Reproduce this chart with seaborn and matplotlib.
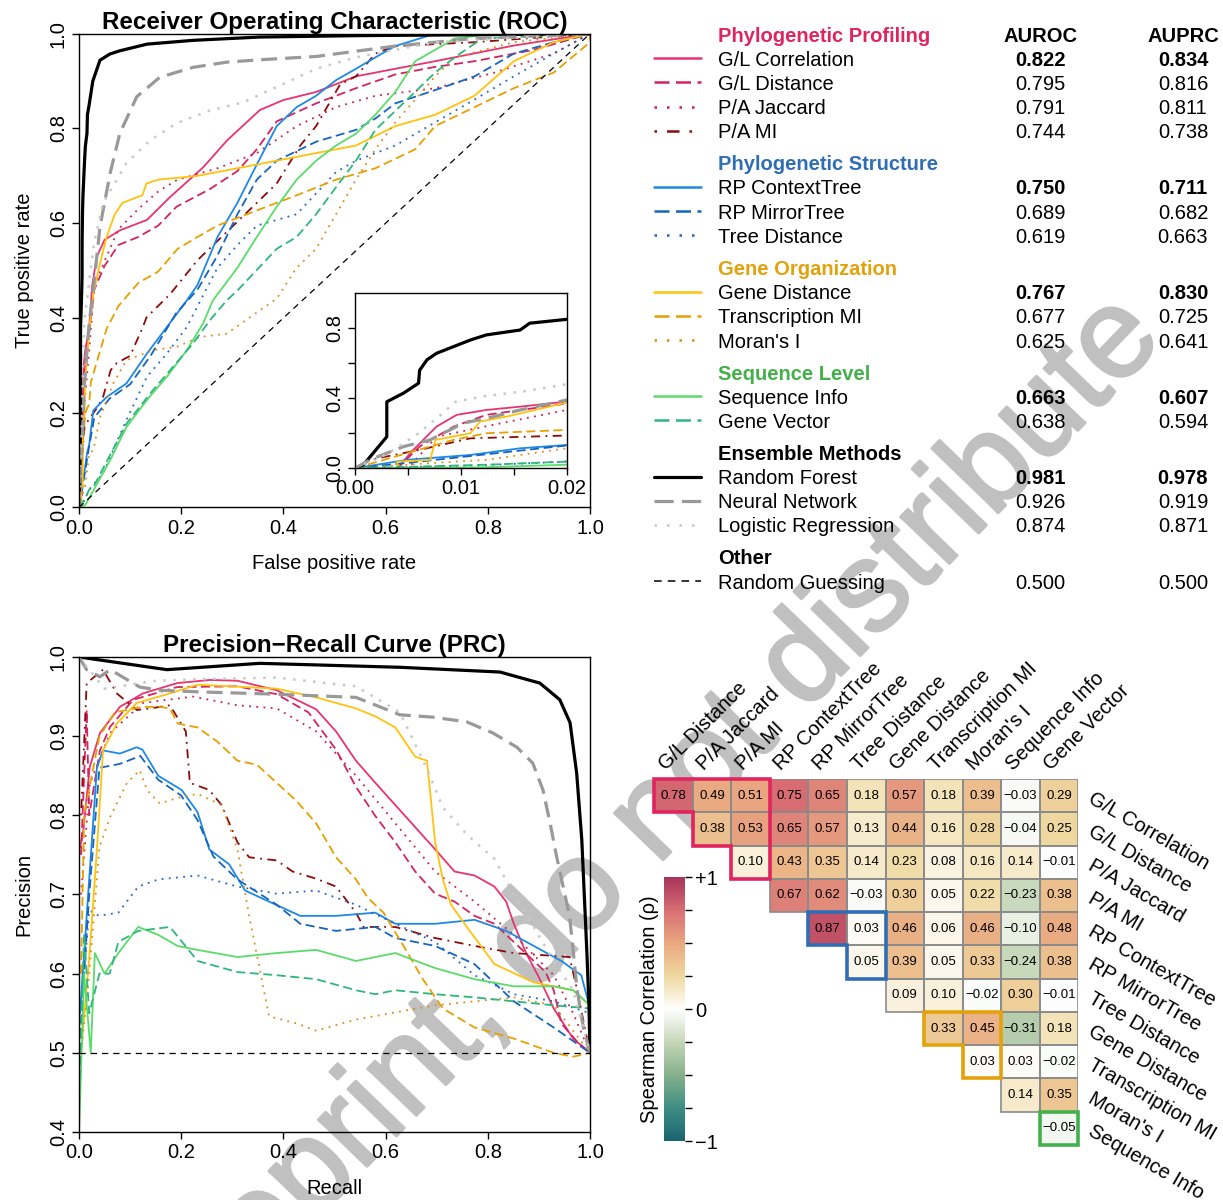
import numpy as np
import matplotlib
matplotlib.use("Agg")
import matplotlib.pyplot as plt
import matplotlib.patheffects as pe
import seaborn as sns
from matplotlib.colors import LinearSegmentedColormap
from matplotlib.patches import Polygon, Rectangle

# ---- methods, groups, scores ----
METHODS = ["G/L Correlation", "G/L Distance", "P/A Jaccard", "P/A MI",
           "RP ContextTree", "RP MirrorTree", "Tree Distance",
           "Gene Distance", "Transcription MI", "Moran's I",
           "Sequence Info", "Gene Vector",
           "Random Forest", "Neural Network", "Logistic Regression"]
GROUPS = ["Phylogenetic Profiling", "Phylogenetic Structure", "Gene Organization",
          "Sequence Level", "Ensemble Methods", "Other"]
GROUP_SIZES = [4, 3, 3, 2, 3, 1]
GROUP_COLORS = ["#E0245E", "#2F6EB5", "#E3A20C", "#44B04A", "#000000", "#000000"]
METHOD_COLORS = ["#E8336E", "#D42360", "#C8204F", "#8B0A0A",
                 "#1E88E5", "#1565C0", "#2166C4",
                 "#FFC20E", "#E6A000", "#D98E1A",
                 "#5BDB6A", "#2EB67D",
                 "#000000", "#999999", "#C8C8C8"]
METHOD_STYLES = ["solid", "dashed", "dotted", "dotdash",
                 "solid", "dashed", "dotted",
                 "solid", "dashed", "dotted",
                 "solid", "dashed",
                 "solid", "dashed", "dotted"]
METHOD_LW = [1.3] * 12 + [2.3, 2.3, 1.8]
AUROC = [0.822, 0.795, 0.791, 0.744, 0.750, 0.689, 0.619, 0.767, 0.677, 0.625,
         0.663, 0.638, 0.981, 0.926, 0.874]
AUPRC = [0.834, 0.816, 0.811, 0.738, 0.711, 0.682, 0.663, 0.830, 0.725, 0.641,
         0.607, 0.594, 0.978, 0.919, 0.871]
RANDOM_NAME = "Random Guessing"
RANDOM_AUROC = 0.500
RANDOM_AUPRC = 0.500

# ---- ROC curves (fpr, tpr) ----
ROC_GL_CORR = [(0, 0), (0.004, 0.0), (0.0055, 0.105), (0.0077, 0.238), (0.0096, 0.305), (0.0124, 0.333),
               (0.0156, 0.352), (0.02, 0.381), (0.026, 0.47), (0.035, 0.53), (0.05, 0.565), (0.08, 0.585),
               (0.133, 0.607), (0.178, 0.655), (0.243, 0.718), (0.29, 0.775), (0.354, 0.839), (0.4, 0.86),
               (0.464, 0.877), (0.542, 0.91), (0.619, 0.926), (0.697, 0.942), (0.851, 0.975), (1, 1)]
ROC_GL_DIST = [(0, 0), (0.004, 0.0), (0.0061, 0.124), (0.0093, 0.238), (0.0124, 0.305), (0.02, 0.37),
               (0.03, 0.46), (0.05, 0.51), (0.077, 0.554), (0.116, 0.571), (0.155, 0.595), (0.191, 0.635),
               (0.256, 0.672), (0.31, 0.71), (0.348, 0.756), (0.387, 0.815), (0.464, 0.853), (0.542, 0.885),
               (0.619, 0.914), (0.697, 0.93), (0.774, 0.942), (0.89, 0.966), (1, 1)]
ROC_PA_JACC = [(0, 0), (0.005, 0.0), (0.0077, 0.18), (0.0124, 0.24), (0.02, 0.333), (0.03, 0.47),
               (0.05, 0.52), (0.077, 0.587), (0.116, 0.63), (0.155, 0.667), (0.193, 0.692), (0.271, 0.716),
               (0.348, 0.748), (0.426, 0.805), (0.503, 0.845), (0.58, 0.869), (0.697, 0.885), (0.813, 0.918),
               (0.929, 0.958), (1, 1)]
ROC_PA_MI = [(0, 0), (0.0014, 0.048), (0.0061, 0.105), (0.0109, 0.171), (0.02, 0.187), (0.035, 0.21),
             (0.047, 0.233), (0.062, 0.29), (0.074, 0.305), (0.1, 0.32), (0.125, 0.381), (0.132, 0.401),
             (0.178, 0.45), (0.232, 0.522), (0.279, 0.571), (0.325, 0.619), (0.387, 0.684), (0.433, 0.764),
             (0.464, 0.805), (0.511, 0.893), (0.542, 0.91), (0.58, 0.958), (0.619, 0.974), (0.774, 0.982), (1, 1)]
ROC_RP_CT = [(0, 0), (0.0049, 0.048), (0.0109, 0.076), (0.0156, 0.114), (0.02, 0.133), (0.028, 0.205),
             (0.054, 0.233), (0.093, 0.262), (0.133, 0.325), (0.172, 0.381), (0.211, 0.437), (0.232, 0.47),
             (0.271, 0.571), (0.31, 0.643), (0.348, 0.724), (0.387, 0.805), (0.426, 0.845), (0.464, 0.869),
             (0.503, 0.902), (0.542, 0.926), (0.58, 0.95), (0.619, 0.974), (0.697, 1.0), (1, 1)]
ROC_RP_MT = [(0, 0), (0.0061, 0.038), (0.02, 0.13), (0.03, 0.19), (0.06, 0.23), (0.1, 0.26), (0.14, 0.32),
             (0.19, 0.41), (0.232, 0.46), (0.27, 0.53), (0.31, 0.619), (0.348, 0.692), (0.387, 0.732),
             (0.464, 0.772), (0.542, 0.797), (0.58, 0.821), (0.619, 0.853), (0.697, 0.881), (0.774, 0.91),
             (0.851, 0.958), (0.929, 0.982), (1, 1)]
ROC_TREE_DIST = [(0, 0), (0.012, 0.017), (0.02, 0.038), (0.047, 0.072), (0.093, 0.185), (0.133, 0.276),
                 (0.172, 0.325), (0.211, 0.381), (0.232, 0.425), (0.271, 0.506), (0.31, 0.554), (0.348, 0.595),
                 (0.387, 0.607), (0.426, 0.619), (0.503, 0.708), (0.542, 0.732), (0.619, 0.764), (0.697, 0.813),
                 (0.774, 0.861), (0.851, 0.91), (0.929, 0.958), (1, 1)]
ROC_GENE_DIST = [(0, 0), (0.004, 0.0), (0.004, 0.038), (0.0071, 0.048), (0.0076, 0.162), (0.0109, 0.2),
                 (0.0118, 0.267), (0.0143, 0.295), (0.02, 0.375), (0.028, 0.45), (0.039, 0.506), (0.054, 0.571),
                 (0.07, 0.619), (0.085, 0.643), (0.124, 0.659), (0.132, 0.684), (0.155, 0.692), (0.232, 0.70),
                 (0.31, 0.716), (0.387, 0.732), (0.464, 0.748), (0.542, 0.764), (0.619, 0.805), (0.697, 0.829),
                 (0.774, 0.869), (0.851, 0.942), (0.929, 0.982), (1, 1)]
ROC_TRANS_MI = [(0, 0), (0.0049, 0.086), (0.0093, 0.162), (0.0124, 0.2), (0.02, 0.219), (0.023, 0.264),
                (0.054, 0.377), (0.077, 0.425), (0.116, 0.474), (0.155, 0.498), (0.193, 0.546), (0.232, 0.571),
                (0.271, 0.595), (0.348, 0.627), (0.426, 0.659), (0.503, 0.692), (0.58, 0.716), (0.658, 0.756),
                (0.697, 0.805), (0.774, 0.845), (0.851, 0.885), (0.929, 0.918), (1, 0.982), (1, 1)]
ROC_MORAN = [(0, 0), (0.0071, 0.029), (0.0124, 0.048), (0.02, 0.114), (0.028, 0.121), (0.041, 0.19),
             (0.067, 0.262), (0.093, 0.311), (0.145, 0.332), (0.191, 0.339), (0.237, 0.36), (0.289, 0.367),
             (0.354, 0.416), (0.387, 0.441), (0.426, 0.506), (0.464, 0.546), (0.503, 0.619), (0.542, 0.692),
             (0.58, 0.756), (0.619, 0.813), (0.658, 0.861), (0.697, 0.91), (0.735, 0.95), (0.851, 0.982), (1, 1)]
ROC_SEQ_INFO = [(0, 0), (0.012, 0.005), (0.021, 0.022), (0.061, 0.1), (0.093, 0.17), (0.133, 0.227),
                (0.172, 0.276), (0.211, 0.332), (0.243, 0.389), (0.262, 0.437), (0.31, 0.506), (0.348, 0.571),
                (0.387, 0.635), (0.426, 0.692), (0.464, 0.732), (0.503, 0.764), (0.542, 0.789), (0.58, 0.829),
                (0.619, 0.877), (0.658, 0.942), (0.697, 0.966), (0.735, 0.99), (0.813, 1.0), (1, 1)]
ROC_GENE_VEC = [(0, 0), (0.0124, 0.02), (0.02, 0.038), (0.028, 0.043), (0.093, 0.177), (0.145, 0.248),
                (0.184, 0.297), (0.223, 0.346), (0.256, 0.395), (0.289, 0.437), (0.31, 0.458), (0.387, 0.546),
                (0.426, 0.571), (0.464, 0.619), (0.503, 0.676), (0.542, 0.732), (0.58, 0.797), (0.619, 0.837),
                (0.697, 0.918), (0.735, 0.95), (0.789, 0.99), (1, 1)]
ROC_RF = [(0, 0), (0.0008, 0.02), (0.003, 0.18), (0.003, 0.38), (0.0046, 0.43), (0.006, 0.486),
          (0.0061, 0.56), (0.0068, 0.62), (0.0077, 0.657), (0.0093, 0.695), (0.0109, 0.733), (0.0124, 0.762),
          (0.0156, 0.79), (0.0165, 0.829), (0.02, 0.851), (0.027, 0.90), (0.041, 0.944), (0.06, 0.957),
          (0.08, 0.964), (0.133, 0.978), (0.223, 0.986), (0.354, 0.993), (0.55, 0.996), (0.8, 0.998), (1, 1)]
ROC_NN = [(0, 0), (0.0014, 0.048), (0.0046, 0.124), (0.0071, 0.162), (0.0102, 0.257), (0.0131, 0.295),
          (0.0156, 0.333), (0.02, 0.39), (0.03, 0.48), (0.041, 0.592), (0.061, 0.706), (0.08, 0.79),
          (0.113, 0.867), (0.158, 0.908), (0.223, 0.929), (0.289, 0.94), (0.354, 0.945), (0.464, 0.952),
          (0.619, 0.974), (0.774, 0.99), (1, 1)]
ROC_LR = [(0, 0), (0.003, 0.08), (0.006, 0.2), (0.008, 0.3), (0.0095, 0.38), (0.012, 0.41), (0.016, 0.44),
          (0.02, 0.48), (0.03, 0.56), (0.047, 0.642), (0.093, 0.727), (0.139, 0.775), (0.191, 0.811),
          (0.256, 0.838), (0.321, 0.855), (0.464, 0.926), (0.542, 0.95), (0.697, 0.982), (1, 1)]
ROC_RANDOM = [(0, 0), (1, 1)]

# ---- PR curves (recall, precision) ----
PR_GL_CORR = [(0.002, 0.76), (0.008, 0.778), (0.021, 0.861), (0.041, 0.904), (0.08, 0.937), (0.125, 0.954),
              (0.192, 0.967), (0.256, 0.971), (0.31, 0.97), (0.387, 0.958), (0.464, 0.934), (0.503, 0.906),
              (0.542, 0.869), (0.58, 0.841), (0.619, 0.813), (0.658, 0.785), (0.697, 0.757), (0.735, 0.729),
              (0.774, 0.724), (0.813, 0.71), (0.836, 0.691), (0.851, 0.663), (0.875, 0.626), (0.898, 0.598),
              (0.929, 0.556), (0.967, 0.518), (1, 0.5)]
PR_GL_DIST = [(0.004, 0.75), (0.015, 0.933), (0.02, 0.80), (0.041, 0.882), (0.061, 0.912), (0.106, 0.946),
              (0.192, 0.962), (0.31, 0.963), (0.387, 0.953), (0.449, 0.93), (0.503, 0.883), (0.542, 0.836),
              (0.58, 0.799), (0.619, 0.766), (0.658, 0.729), (0.697, 0.701), (0.735, 0.691), (0.774, 0.673),
              (0.813, 0.663), (0.851, 0.64), (0.89, 0.616), (0.913, 0.602), (0.929, 0.579), (0.944, 0.537),
              (0.975, 0.514), (1, 0.5)]
PR_PA_JACC = [(0.004, 0.7), (0.021, 0.84), (0.061, 0.904), (0.125, 0.942), (0.223, 0.95), (0.31, 0.939),
              (0.387, 0.935), (0.464, 0.906), (0.542, 0.85), (0.619, 0.79), (0.697, 0.729), (0.774, 0.691),
              (0.851, 0.649), (0.929, 0.598), (0.967, 0.55), (1, 0.5)]
PR_PA_MI = [(0.004, 0.8), (0.015, 0.967), (0.047, 0.984), (0.074, 0.954), (0.113, 0.933), (0.139, 0.935),
            (0.178, 0.939), (0.209, 0.906), (0.217, 0.841), (0.255, 0.832), (0.279, 0.813), (0.31, 0.766),
            (0.333, 0.747), (0.387, 0.743), (0.418, 0.729), (0.464, 0.72), (0.503, 0.71), (0.542, 0.677),
            (0.557, 0.659), (0.619, 0.659), (0.697, 0.645), (0.774, 0.635), (0.851, 0.626), (0.96, 0.621),
            (0.975, 0.579), (1, 0.5)]
PR_RP_CT = [(0.002, 0.55), (0.02, 0.72), (0.035, 0.86), (0.047, 0.882), (0.08, 0.878), (0.113, 0.886),
            (0.124, 0.883), (0.155, 0.85), (0.201, 0.832), (0.232, 0.804), (0.255, 0.757), (0.294, 0.738),
            (0.325, 0.705), (0.372, 0.691), (0.433, 0.673), (0.503, 0.673), (0.58, 0.677), (0.619, 0.663),
            (0.697, 0.663), (0.774, 0.668), (0.836, 0.654), (0.89, 0.635), (0.944, 0.616), (0.983, 0.598),
            (1, 0.556)]
PR_RP_MT = [(0.002, 0.52), (0.02, 0.7), (0.04, 0.86), (0.08, 0.865), (0.12, 0.875), (0.155, 0.845),
            (0.2, 0.825), (0.232, 0.794), (0.263, 0.748), (0.31, 0.719), (0.387, 0.687), (0.433, 0.663),
            (0.503, 0.654), (0.58, 0.659), (0.619, 0.645), (0.697, 0.635), (0.774, 0.612), (0.851, 0.565),
            (0.929, 0.532), (1, 0.5)]
PR_TREE_DIST = [(0.002, 0.5), (0.01, 0.6), (0.02, 0.68), (0.039, 0.673), (0.077, 0.677), (0.116, 0.71),
                (0.155, 0.719), (0.232, 0.724), (0.31, 0.71), (0.387, 0.701), (0.464, 0.705), (0.542, 0.687),
                (0.619, 0.663), (0.697, 0.64), (0.774, 0.598), (0.851, 0.574), (0.929, 0.565), (1, 0.55)]
PR_GENE_DIST = [(0.004, 0.5), (0.02, 0.62), (0.035, 0.756), (0.047, 0.882), (0.074, 0.916), (0.113, 0.942),
                (0.178, 0.954), (0.232, 0.965), (0.387, 0.96), (0.464, 0.949), (0.542, 0.935), (0.58, 0.925),
                (0.619, 0.911), (0.658, 0.874), (0.681, 0.869), (0.697, 0.766), (0.712, 0.719), (0.728, 0.687),
                (0.759, 0.659), (0.813, 0.612), (0.89, 0.589), (0.967, 0.579), (1, 0.56)]
PR_TRANS_MI = [(0.004, 0.6), (0.01, 0.8), (0.04, 0.9), (0.07, 0.93), (0.125, 0.937), (0.158, 0.937),
               (0.178, 0.935), (0.193, 0.916), (0.232, 0.911), (0.271, 0.893), (0.31, 0.869), (0.348, 0.864),
               (0.387, 0.841), (0.426, 0.818), (0.464, 0.79), (0.503, 0.747), (0.542, 0.719), (0.565, 0.696),
               (0.596, 0.677), (0.635, 0.635), (0.673, 0.593), (0.712, 0.556), (0.774, 0.532), (0.851, 0.518),
               (0.929, 0.5), (0.967, 0.495), (1, 0.5)]
PR_MORAN = [(0.004, 0.5), (0.02, 0.6), (0.04, 0.76), (0.061, 0.798), (0.094, 0.841), (0.119, 0.857),
            (0.133, 0.832), (0.158, 0.815), (0.193, 0.822), (0.232, 0.827), (0.279, 0.813), (0.31, 0.757),
            (0.333, 0.673), (0.356, 0.598), (0.372, 0.546), (0.426, 0.537), (0.464, 0.528), (0.542, 0.542),
            (0.619, 0.551), (0.697, 0.56), (0.774, 0.565), (0.851, 0.57), (0.929, 0.56), (1, 0.5)]
PR_SEQ_INFO = [(0.0, 0.4), (0.01, 0.6), (0.023, 0.5), (0.031, 0.626), (0.05, 0.6), (0.077, 0.626),
               (0.116, 0.659), (0.155, 0.649), (0.193, 0.635), (0.232, 0.63), (0.31, 0.621), (0.387, 0.626),
               (0.464, 0.63), (0.542, 0.616), (0.619, 0.626), (0.697, 0.607), (0.774, 0.593), (0.851, 0.584),
               (0.929, 0.584), (0.967, 0.579), (1, 0.56)]
PR_GENE_VEC = [(0.0, 0.45), (0.01, 0.65), (0.02, 0.55), (0.04, 0.6), (0.06, 0.6), (0.077, 0.64),
               (0.116, 0.654), (0.178, 0.659), (0.232, 0.616), (0.31, 0.602), (0.387, 0.598), (0.464, 0.593),
               (0.542, 0.579), (0.58, 0.574), (0.619, 0.579), (0.697, 0.574), (0.774, 0.57), (0.851, 0.565),
               (0.929, 0.56), (1, 0.556)]
PR_RF = [(0, 1.0), (0.172, 0.984), (0.354, 0.992), (0.628, 0.987), (0.824, 0.981), (0.902, 0.967),
         (0.941, 0.946), (0.961, 0.917), (0.974, 0.853), (0.984, 0.769), (0.994, 0.626), (0.998, 0.56), (1.0, 0.5)]
PR_NN = [(0, 1.0), (0.015, 0.984), (0.041, 0.975), (0.061, 0.984), (0.119, 0.962), (0.158, 0.958),
         (0.232, 0.956), (0.387, 0.953), (0.542, 0.949), (0.628, 0.927), (0.693, 0.924), (0.759, 0.918),
         (0.81, 0.904), (0.857, 0.886), (0.888, 0.866), (0.908, 0.832), (0.922, 0.79), (0.935, 0.747),
         (0.96, 0.673), (0.975, 0.579), (0.987, 0.532), (1, 0.5)]
PR_LR = [(0, 1.0), (0.05, 0.96), (0.1, 0.965), (0.15, 0.97), (0.232, 0.972), (0.387, 0.974), (0.542, 0.963),
         (0.628, 0.93), (0.68, 0.86), (0.712, 0.81), (0.76, 0.775), (0.813, 0.745), (0.851, 0.70),
         (0.89, 0.659), (0.929, 0.616), (0.967, 0.579), (1, 0.5)]
PR_RANDOM = [(0, 0.5), (1, 0.5)]

ROC_CURVES = [ROC_GL_CORR, ROC_GL_DIST, ROC_PA_JACC, ROC_PA_MI, ROC_RP_CT, ROC_RP_MT, ROC_TREE_DIST,
              ROC_GENE_DIST, ROC_TRANS_MI, ROC_MORAN, ROC_SEQ_INFO, ROC_GENE_VEC, ROC_RF, ROC_NN, ROC_LR]
PR_CURVES = [PR_GL_CORR, PR_GL_DIST, PR_PA_JACC, PR_PA_MI, PR_RP_CT, PR_RP_MT, PR_TREE_DIST,
             PR_GENE_DIST, PR_TRANS_MI, PR_MORAN, PR_SEQ_INFO, PR_GENE_VEC, PR_RF, PR_NN, PR_LR]

# ---- Spearman correlation between method scores (upper triangle) ----
CORR_ROWS = [
    [0.78, 0.49, 0.51, 0.75, 0.65, 0.18, 0.57, 0.18, 0.39, -0.03, 0.29],
    [0.38, 0.53, 0.65, 0.57, 0.13, 0.44, 0.16, 0.28, -0.04, 0.25],
    [0.10, 0.43, 0.35, 0.14, 0.23, 0.08, 0.16, 0.14, -0.01],
    [0.67, 0.62, -0.03, 0.30, 0.05, 0.22, -0.23, 0.38],
    [0.87, 0.03, 0.46, 0.06, 0.46, -0.10, 0.48],
    [0.05, 0.39, 0.05, 0.33, -0.24, 0.38],
    [0.09, 0.10, -0.02, 0.30, -0.01],
    [0.33, 0.45, -0.31, 0.18],
    [0.03, 0.03, -0.02],
    [0.14, 0.35],
    [-0.05],
]
HM_ROWS = METHODS[0:11]
HM_COLS = METHODS[1:12]
CMAP_COLORS = ["#1A6470", "#3E8E84", "#86B08C", "#C5D6B8", "#FFFFFF",
               "#EFD9A0", "#E9A880", "#D86E74", "#A8345A"]
CBAR_TICKS = [-1, -0.75, -0.5, -0.25, 0, 0.25, 0.5, 0.75, 1]
CBAR_LABELS = ["\u22121", "", "", "", "0", "", "", "", "+1"]

PLOT_DASHES = {"solid": "-", "dashed": (0, (5, 2.5)), "dotted": (0, (1, 3)), "dotdash": (0, (1, 3, 5, 3))}
LEGEND_DASHES = {"solid": "-", "dashed": (0, (6, 2.6)), "dotted": (0, (1, 4)), "dotdash": (0, (1, 4, 5, 4))}

sns.set_theme(style="ticks")
plt.rcParams["font.family"] = ["Liberation Sans", "DejaVu Sans"]
plt.rcParams["axes.edgecolor"] = "black"
plt.rcParams["xtick.color"] = "black"
plt.rcParams["ytick.color"] = "black"
plt.rcParams["text.color"] = "black"
plt.rcParams["axes.labelcolor"] = "black"

FS = 14.5
WM_GRAY = "#C0C0C0"

fig = plt.figure(figsize=(12.23, 12.0), dpi=100)

# watermark, drawn under the panels
fig.text(650 / 1223, 1 - 826 / 1200, "preprint, do not distribute", rotation=46,
         rotation_mode="anchor", ha="center", va="center", fontsize=92, color=WM_GRAY, zorder=-1,
         path_effects=[pe.withStroke(linewidth=2, foreground=WM_GRAY)])


def draw_curves(ax, curves):
    for pts, color, style, lw in zip(curves, METHOD_COLORS, METHOD_STYLES, METHOD_LW):
        arr = np.array(pts)
        sns.lineplot(x=arr[:, 0], y=arr[:, 1], ax=ax, color=color, linestyle=PLOT_DASHES[style],
                     linewidth=lw, sort=False, estimator=None, legend=False)


def frame(ax, xticks, xlabels, yticks, ylabels):
    ax.set_xticks(xticks)
    ax.set_xticklabels(xlabels)
    ax.set_yticks(yticks)
    ax.set_yticklabels(ylabels, rotation=90, va="center")
    for sp in ax.spines.values():
        sp.set_visible(True)
        sp.set_color("black")
        sp.set_linewidth(1.0)
    ax.tick_params(direction="out", length=5, width=1, labelsize=FS, pad=3)
    ax.set_xlabel("")
    ax.set_ylabel("")


TICKS01 = [0, 0.2, 0.4, 0.6, 0.8, 1.0]

# ---- ROC ----
ax_roc = fig.add_axes([0.0646, 0.5771, 0.4178, 0.3948])
ax_roc.patch.set_alpha(0)
draw_curves(ax_roc, ROC_CURVES)
rnd = np.array(ROC_RANDOM)
sns.lineplot(x=rnd[:, 0], y=rnd[:, 1], ax=ax_roc, color="black", linestyle=(0, (5, 4)), linewidth=0.9,
             sort=False, estimator=None)
ax_roc.set_xlim(0, 1)
ax_roc.set_ylim(0, 1)
frame(ax_roc, TICKS01, [f"{t:.1f}" for t in TICKS01], TICKS01, [f"{t:.1f}" for t in TICKS01])
ax_roc.set_xlabel("False positive rate", fontsize=FS, labelpad=12)
ax_roc.set_ylabel("True positive rate", fontsize=FS, labelpad=11)
ax_roc.set_title("Receiver Operating Characteristic (ROC)", fontsize=17.4, fontweight="bold", pad=3)

# inset: low false positive rates
ax_in = fig.add_axes([0.2903, 0.6098, 0.1731, 0.1458])
draw_curves(ax_in, ROC_CURVES)
ax_in.set_xlim(0, 0.02)
ax_in.set_ylim(0, 1.0)
frame(ax_in, [0, 0.005, 0.01, 0.015, 0.02], ["0.00", "", "0.01", "", "0.02"],
      [0, 0.2, 0.4, 0.6, 0.8], ["0.0", "", "0.4", "", "0.8"])

# ---- PR ----
ax_pr = fig.add_axes([0.0646, 0.0567, 0.4178, 0.3958])
ax_pr.patch.set_alpha(0)
draw_curves(ax_pr, PR_CURVES)
rnd = np.array(PR_RANDOM)
sns.lineplot(x=rnd[:, 0], y=rnd[:, 1], ax=ax_pr, color="black", linestyle=(0, (5, 4)), linewidth=0.9,
             sort=False, estimator=None)
ax_pr.set_xlim(0, 1)
ax_pr.set_ylim(0.4, 1.0)
PR_YT = [0.4, 0.5, 0.6, 0.7, 0.8, 0.9, 1.0]
frame(ax_pr, TICKS01, [f"{t:.1f}" for t in TICKS01], PR_YT, [f"{t:.1f}" for t in PR_YT])
ax_pr.set_xlabel("Recall", fontsize=FS, labelpad=12)
ax_pr.set_ylabel("Precision", fontsize=FS, labelpad=11)
ax_pr.set_title("Precision\u2212Recall Curve (PRC)", fontsize=17.4, fontweight="bold", pad=3)

# ---- heatmap ----
n = len(HM_ROWS)
corr = np.full((n, n), np.nan)
for i, row in enumerate(CORR_ROWS):
    corr[i, i:] = row
annot = np.where(np.isnan(corr), "",
                 np.vectorize(lambda v: f"{v:.2f}".replace("-", "\u2212"))(np.nan_to_num(corr)))
cmap = LinearSegmentedColormap.from_list("rho", CMAP_COLORS)

ax_hm = fig.add_axes([0.5348, 0.0458, 0.347, 0.305])
ax_cb = fig.add_axes([0.543, 0.049, 0.0172, 0.22])
sns.heatmap(corr, mask=np.isnan(corr), cmap=cmap, vmin=-1, vmax=1, annot=annot, fmt="",
            annot_kws={"fontsize": 9.5, "color": "black"}, linewidths=0,
            xticklabels=False, yticklabels=False, ax=ax_hm, cbar_ax=ax_cb,
            cbar_kws={"ticks": CBAR_TICKS})
ax_hm.patch.set_alpha(0)
ax_hm.tick_params(length=0)

# cell borders only for the drawn (upper-triangle) cells
for i in range(n):
    for j in range(n):
        if not np.isnan(corr[i, j]):
            ax_hm.add_patch(Rectangle((j, i), 1, 1, fill=False, edgecolor="#8A8A8A", linewidth=1.2, zorder=2))

for j, name in enumerate(HM_COLS):
    ax_hm.text(j + 0.3, -0.25, name, rotation=45, rotation_mode="anchor", ha="left", va="baseline",
               fontsize=FS, clip_on=False)
for i, name in enumerate(HM_ROWS):
    ax_hm.text(n + 0.3, i + 0.55, name, rotation=-30, rotation_mode="anchor", ha="left", va="center",
               fontsize=FS, clip_on=False)

# group outlines (within-group pairs)
start = 0
for gsize, gcol in zip(GROUP_SIZES[:4], GROUP_COLORS[:4]):
    s, e = start, start + gsize - 1
    pts = [(s, s), (e, s), (e, e)]
    for k in range(e - 1, s - 1, -1):
        pts += [(k, k + 1), (k, k)]
    ax_hm.add_patch(Polygon(pts, closed=True, fill=False, edgecolor=gcol, linewidth=2.6,
                            joinstyle="miter", clip_on=False, zorder=5))
    start += gsize

cbar = ax_hm.collections[0].colorbar
cbar.outline.set_visible(False)
ax_cb.set_yticklabels(CBAR_LABELS)
ax_cb.tick_params(length=5, width=1, labelsize=FS, pad=2, colors="black")
ax_cb.set_ylabel("Spearman Correlation (\u03c1)", fontsize=FS, labelpad=4)
ax_cb.yaxis.set_label_position("left")

# ---- legend table ----
ax_lg = fig.add_axes([0, 0, 1, 1])
ax_lg.set_xlim(0, 1223)
ax_lg.set_ylim(1200, 0)
ax_lg.axis("off")
X_L0, X_L1, X_TXT, X_AUROC, X_AUPRC = 654, 701, 718, 1040, 1183
ROW_H, GROUP_GAP = 24.2, 32
y = 34
ax_lg.text(X_AUROC, y, "AUROC", ha="center", va="center_baseline", fontsize=FS, fontweight="bold")
ax_lg.text(X_AUPRC, y, "AUPRC", ha="center", va="center_baseline", fontsize=FS, fontweight="bold")
m = 0
for gname, gsize, gcol in zip(GROUPS, GROUP_SIZES, GROUP_COLORS):
    ax_lg.text(X_TXT, y, gname, ha="left", va="center_baseline", fontsize=FS, fontweight="bold", color=gcol)
    for k in range(gsize):
        y += ROW_H
        if gname == "Other":
            name, color, ls, lw = RANDOM_NAME, "black", (0, (5, 4)), 1.1
            au, ap, best = RANDOM_AUROC, RANDOM_AUPRC, False
        else:
            name, color = METHODS[m], METHOD_COLORS[m]
            ls, lw = LEGEND_DASHES[METHOD_STYLES[m]], max(METHOD_LW[m], 1.8)
            au, ap, best = AUROC[m], AUPRC[m], k == 0
            m += 1
        ax_lg.plot([X_L0, X_L1], [y, y], color=color, linestyle=ls, linewidth=lw)
        ax_lg.text(X_TXT, y, name, ha="left", va="center_baseline", fontsize=FS)
        fw = "bold" if best else "normal"
        ax_lg.text(X_AUROC, y, f"{au:.3f}", ha="center", va="center_baseline", fontsize=FS, fontweight=fw)
        ax_lg.text(X_AUPRC, y, f"{ap:.3f}", ha="center", va="center_baseline", fontsize=FS, fontweight=fw)
    y += GROUP_GAP

fig.savefig("out.png", dpi=100)
